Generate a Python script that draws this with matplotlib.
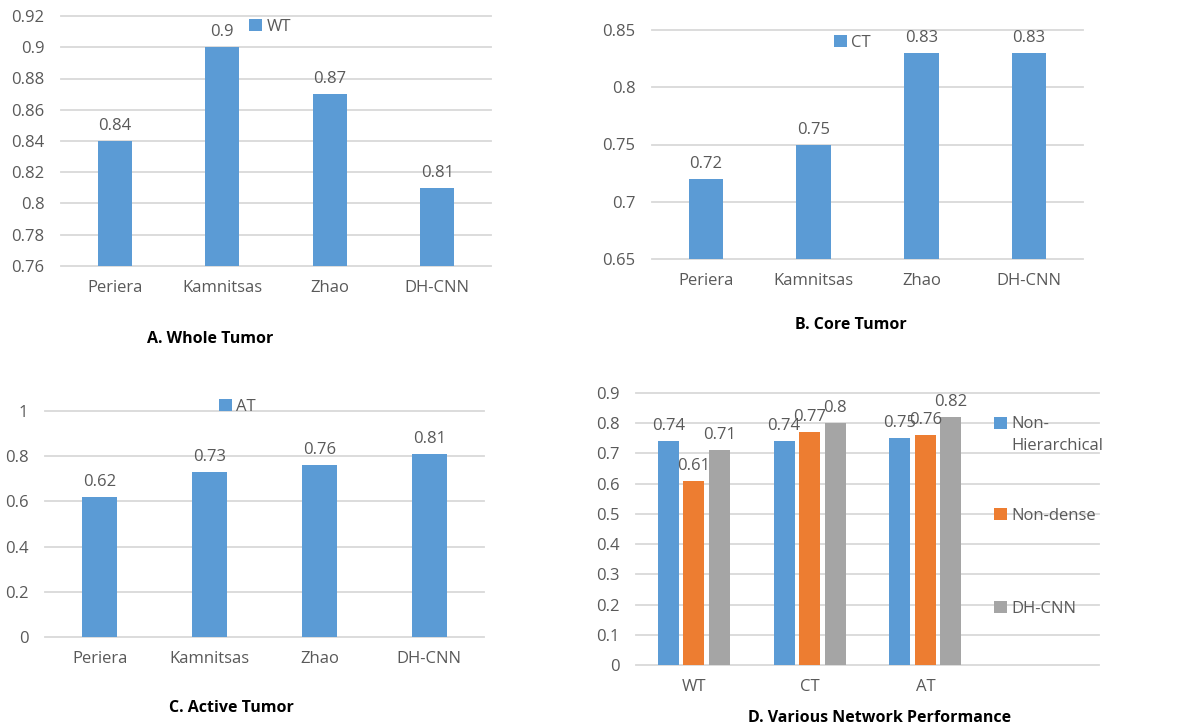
import numpy as np
import matplotlib
matplotlib.use('Agg')
import matplotlib.pyplot as plt

plt.rcParams['font.family'] = ['Open Sans', 'DejaVu Sans']

# data
methods = ['Periera', 'Kamnitsas', 'Zhao', 'DH-CNN']
wt_scores = [0.84, 0.90, 0.87, 0.81]
ct_scores = [0.72, 0.75, 0.83, 0.83]
at_scores = [0.62, 0.73, 0.76, 0.81]

regions = ['WT', 'CT', 'AT']
non_hier = [0.74, 0.74, 0.75]
non_dense = [0.61, 0.77, 0.76]
dh_cnn = [0.71, 0.80, 0.82]

BLUE = '#5B9BD5'
ORANGE = '#ED7D31'
GRAY = '#A5A5A5'
GRID = '#D9D9D9'
TXT = '#595959'

W, H = 1195, 728
fig = plt.figure(figsize=(W / 100, H / 100), dpi=100)


def axes_px(x0, y0, x1, y1):
    # pixel box (top-left origin) -> figure fraction axes
    return fig.add_axes([x0 / W, 1 - y1 / H, (x1 - x0) / W, (y1 - y0) / H])


def style(ax, ylim, yticks, ylabels):
    ax.set_ylim(*ylim)
    ax.set_yticks(yticks)
    ax.set_yticklabels(ylabels)
    for s in ax.spines.values():
        s.set_visible(False)
    ax.set_axisbelow(True)
    ax.yaxis.grid(True, color=GRID, linewidth=1.3)
    for gl in ax.get_ygridlines():
        gl.set_clip_on(False)
    ax.tick_params(axis='both', length=0, labelsize=12, labelcolor=TXT)
    ax.tick_params(axis='y', pad=12)
    ax.tick_params(axis='x', pad=10)
    ax.set_xlim(-0.5, 3.5)


def legend_at(ax, handles, labels, x, y, **kw):
    ax.legend(handles, labels, loc='center left', bbox_to_anchor=(x / W, 1 - y / H),
              bbox_transform=fig.transFigure, frameon=False, borderpad=0,
              borderaxespad=0, handlelength=0.75, handleheight=0.75,
              handletextpad=0.3, fontsize=12, labelcolor=TXT, **kw)


def single_panel(box, scores, ylim, yticks, ylabels, series, leg_xy, title, title_xy):
    ax = axes_px(*box)
    x = np.arange(len(methods))
    bars = ax.bar(x, scores, width=0.32, color=BLUE, label=series)
    ax.bar_label(bars, labels=[f'{v:g}' for v in scores], padding=5,
                 fontsize=12, color=TXT)
    ax.set_xticks(x)
    ax.set_xticklabels(methods)
    style(ax, ylim, yticks, ylabels)
    legend_at(ax, [bars], [series], *leg_xy)
    fig.text(title_xy[0] / W, 1 - title_xy[1] / H, title, ha='center', va='center',
             fontsize=11.5, fontweight='bold', color='black')
    return ax


# A. Whole Tumor
yt = np.linspace(0.76, 0.92, 9)
single_panel((61, 16, 491, 266), wt_scores, (0.76, 0.92), yt,
             ['0.76', '0.78', '0.8', '0.82', '0.84', '0.86', '0.88', '0.9', '0.92'],
             'WT', (249, 27), 'A. Whole Tumor', (210, 339))

# B. Core Tumor
yt = np.linspace(0.65, 0.85, 5)
single_panel((652, 30, 1083, 259), ct_scores, (0.65, 0.85), yt,
             ['0.65', '0.7', '0.75', '0.8', '0.85'],
             'CT', (834, 43), 'B. Core Tumor', (851, 325))

# C. Active Tumor
yt = np.linspace(0, 1, 6)
single_panel((45, 411, 484, 637), at_scores, (0, 1), yt,
             ['0', '0.2', '0.4', '0.6', '0.8', '1'],
             'AT', (219, 407), 'C. Active Tumor', (231, 708))

# D. Various Network Performance
ax = axes_px(636, 393, 1099, 665)
x = np.arange(len(regions))
off, bw = 0.22, 0.18
b1 = ax.bar(x - off, non_hier, width=bw, color=BLUE)
b2 = ax.bar(x, non_dense, width=bw, color=ORANGE)
b3 = ax.bar(x + off, dh_cnn, width=bw, color=GRAY)
for b, vals in [(b1, non_hier), (b2, non_dense), (b3, dh_cnn)]:
    ax.bar_label(b, labels=[f'{v:g}' for v in vals], padding=5, fontsize=12, color=TXT)
ax.set_xticks(x)
ax.set_xticklabels(regions)
yt = np.linspace(0, 0.9, 10)
style(ax, (0, 0.9), yt, ['0'] + [f'{v:g}' for v in yt[1:]])
for b, lab, yy in [(b1, 'Non-\nHierarchical', 435),
                   (b2, 'Non-dense', 516),
                   (b3, 'DH-CNN', 609)]:
    leg = fig.legend([b], [lab], loc='center left', bbox_to_anchor=(994 / W, 1 - yy / H),
                     frameon=False, borderpad=0, borderaxespad=0,
                     handlelength=0.75, handleheight=0.75, handletextpad=0.3,
                     fontsize=12, labelcolor=TXT)
    if '\n' in lab:
        # Excel puts the swatch beside the first line of a wrapped label
        leg.get_texts()[0].set_linespacing(1.45)
        patch = leg.legend_handles[0]
        patch.set_y(patch.get_y() + 8.6)
fig.text(880 / W, 1 - 718 / H, 'D. Various Network Performance', ha='center',
         va='center', fontsize=11.5, fontweight='bold', color='black')

fig.savefig('out.png', dpi=100, facecolor='white')
